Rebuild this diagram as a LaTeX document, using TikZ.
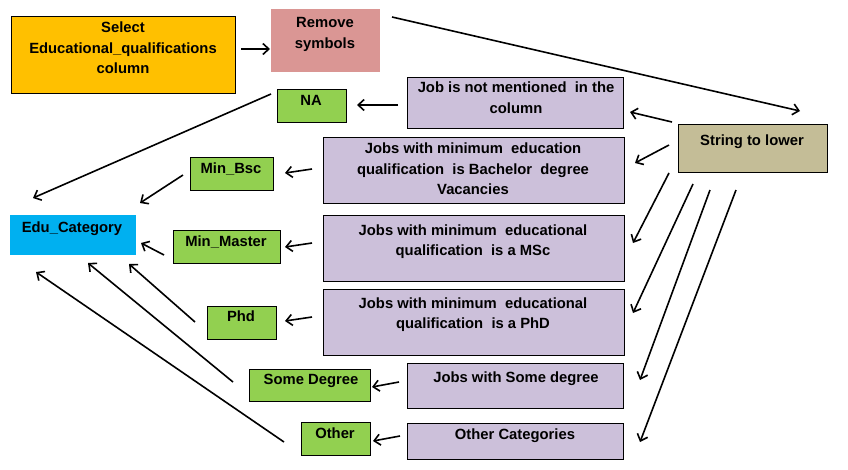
\documentclass[tikz,border=0pt]{standalone}
\usepackage{fontspec}
\setmainfont{Liberation Sans}
\usetikzlibrary{arrows.meta}
\definecolor{cOrange}{HTML}{FFC000}
\definecolor{cPink}{HTML}{DA9694}
\definecolor{cGreen}{HTML}{92D050}
\definecolor{cLav}{HTML}{CCC0DA}
\definecolor{cTan}{HTML}{C4BD97}
\definecolor{cBlue}{HTML}{00B0F0}
\begin{document}
\begin{tikzpicture}[x=1pt,y=-1pt,
  box/.style={draw=black, line width=1pt, anchor=north west, inner sep=0pt},
  plain/.style={anchor=north west, inner sep=0pt},
  txt/.style={inner sep=0pt, align=center, font=\fontsize{14.8}{20.5}\selectfont\bfseries},
  arr/.style={line width=1.6pt, -{Straight Barb[length=6pt,width=11pt]}}]
\useasboundingbox (0,0) rectangle (848,469);
% boxes
\node[box, fill=cOrange, minimum width=224pt, minimum height=77pt] (sel) at (11,16) {};
\node[plain, fill=cPink, minimum width=109pt, minimum height=63pt] (rem) at (271,9) {};
\node[box, fill=cGreen, minimum width=69pt, minimum height=33pt] (na) at (277,89) {};
\node[box, fill=cLav, minimum width=216pt, minimum height=51pt] (jnm) at (407,77) {};
\node[box, fill=cTan, minimum width=149pt, minimum height=48pt] (str) at (678,124) {};
\node[box, fill=cGreen, minimum width=83pt, minimum height=33pt] (bsc) at (190,157) {};
\node[box, fill=cLav, minimum width=301pt, minimum height=66pt] (jb) at (323,137) {};
\node[plain, fill=cBlue, minimum width=126pt, minimum height=40pt] (edu) at (10,215) {};
\node[box, fill=cGreen, minimum width=107pt, minimum height=33pt] (mas) at (173,230) {};
\node[box, fill=cLav, minimum width=301pt, minimum height=66pt] (jm) at (323,215) {};
\node[box, fill=cGreen, minimum width=69pt, minimum height=33pt] (phd) at (207,306) {};
\node[box, fill=cLav, minimum width=301pt, minimum height=66pt] (jp) at (323,289) {};
\node[box, fill=cGreen, minimum width=121pt, minimum height=32pt] (sd) at (249,369) {};
\node[box, fill=cLav, minimum width=216pt, minimum height=45pt] (js) at (407,363) {};
\node[box, fill=cGreen, minimum width=69pt, minimum height=33pt] (oth) at (301,422) {};
\node[box, fill=cLav, minimum width=216pt, minimum height=36pt] (oc) at (407,423) {};
% texts
\node[txt] (selT) at (123,49) {\strut Select\\\strut Educational\_qualifications\\\strut column};
\node[txt] (remT) at (325,34) {\strut Remove\\\strut symbols};
\node[txt] (naT) at (311,101) {\strut NA};
\node[txt] (jnmT) at (516,99) {\strut Job is not mentioned \ in the\\\strut column};
\node[txt] (strT) at (752,141) {\strut String to lower};
\node[txt] (bscT) at (231,169) {\strut Min\_Bsc};
\node[txt] (jbT) at (473,170) {\strut Jobs with minimum \ education\\\strut qualification \ is Bachelor \ degree\\\strut Vacancies};
\node[txt] (eduT) at (72,228) {\strut Edu\_Category};
\node[txt] (masT) at (226,242) {\strut Min\_Master};
\node[txt] (jmT) at (473,241.5) {\strut Jobs with minimum \ educational\\\strut qualification \ is a MSc};
\node[txt] (phdT) at (241,317) {\strut Phd};
\node[txt] (jpT) at (473,314.5) {\strut Jobs with minimum \ educational\\\strut qualification \ is a PhD};
\node[txt] (sdT) at (311,380) {\strut Some Degree};
\node[txt] (jsT) at (516,378) {\strut Jobs with Some degree};
\node[txt] (othT) at (335,434) {\strut Other};
\node[txt] (ocT) at (515,435) {\strut Other Categories};
% connectors
\draw[arr] ([shift={(230,33)}]sel.north west) -- ([shift={(-1,40)}]rem.north west);
\draw[arr] ([shift={(121,8)}]rem.north west) -- ([shift={(122,-13)}]str.north west);
\draw[arr] ([shift={(-9,28)}]jnm.north west) -- ([shift={(80,16)}]na.north west);
\draw[arr] ([shift={(-6,5)}]na.north west) -- ([shift={(23,-17)}]edu.north west);
\draw[arr] ([shift={(-7,18)}]bsc.north west) -- ([shift={(130,-12)}]edu.north west);
\draw[arr] ([shift={(-11,32)}]jb.north west) -- ([shift={(95,16)}]bsc.north west);
\draw[arr] ([shift={(-9,25)}]mas.north west) -- ([shift={(131,28)}]edu.north west);
\draw[arr] ([shift={(-11,28)}]jm.north west) -- ([shift={(112,17)}]mas.north west);
\draw[arr] ([shift={(-12,16)}]phd.north west) -- ([shift={(119,49)}]edu.north west);
\draw[arr] ([shift={(-11,28)}]jp.north west) -- ([shift={(78,15)}]phd.north west);
\draw[arr] ([shift={(-16,13)}]sd.north west) -- ([shift={(78,48)}]edu.north west);
\draw[arr] ([shift={(-8,19)}]js.north west) -- ([shift={(123,18)}]sd.north west);
\draw[arr] ([shift={(-17,20)}]oth.north west) -- ([shift={(26,57)}]edu.north west);
\draw[arr] ([shift={(-7,13)}]oc.north west) -- ([shift={(72,19)}]oth.north west);
\draw[arr] ([shift={(-6,-2)}]str.north west) -- ([shift={(223,35)}]jnm.north west);
\draw[arr] ([shift={(-9,21)}]str.north west) -- ([shift={(312,26)}]jb.north west);
\draw[arr] ([shift={(-9,49)}]str.north west) -- ([shift={(310,28)}]jm.north west);
\draw[arr] ([shift={(15,60)}]str.north west) -- ([shift={(310,24)}]jp.north west);
\draw[arr] ([shift={(32,66)}]str.north west) -- ([shift={(233,17)}]js.north west);
\draw[arr] ([shift={(58,66)}]str.north west) -- ([shift={(233,19)}]oc.north west);
\end{tikzpicture}
\end{document}
